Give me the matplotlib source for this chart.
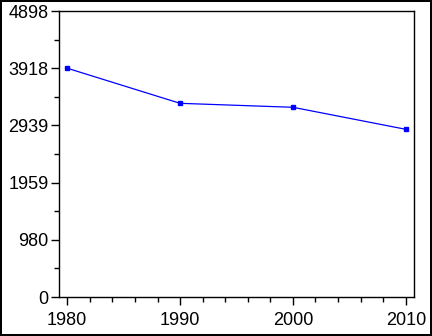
import matplotlib
matplotlib.use("Agg")
import matplotlib.pyplot as plt
from matplotlib.ticker import MultipleLocator, FixedLocator

years = [1980, 1990, 2000, 2010]
values = [3918, 3317, 3249, 2872]
ytick_vals = [0, 980, 1959, 2939, 3918, 4898]
ymax = 4898

plt.rcParams['font.family'] = ['Liberation Sans', 'DejaVu Sans']

fig = plt.figure(figsize=(4.32, 3.36), dpi=100)
fig.patch.set_edgecolor('black')
fig.patch.set_linewidth(1.5)
ax = fig.add_axes([59 / 432, 39 / 336, 355 / 432, 286 / 336])

ax.plot(years, values, color='blue', linewidth=0.9, marker='s', markersize=2.3)

ax.set_xlim(1979.27, 2010.73)
ax.set_ylim(0, ymax)
ax.set_xticks(years)
ax.xaxis.set_minor_locator(MultipleLocator(2))
ax.set_yticks(ytick_vals)
ax.set_yticklabels([str(v) for v in ytick_vals])
mids = [(ytick_vals[i] + ytick_vals[i + 1]) / 2 for i in range(len(ytick_vals) - 1)]
ax.yaxis.set_minor_locator(FixedLocator(mids))

ax.tick_params(which='major', length=6, width=1)
ax.tick_params(which='minor', length=3.3, width=1)
ax.tick_params(axis='x', which='major', pad=5)
ax.tick_params(axis='y', which='major', pad=1.5)
for lab in ax.get_xticklabels() + ax.get_yticklabels():
    lab.set_fontsize(13)
for s in ax.spines.values():
    s.set_linewidth(1)

fig.savefig("out.png", dpi=100)
